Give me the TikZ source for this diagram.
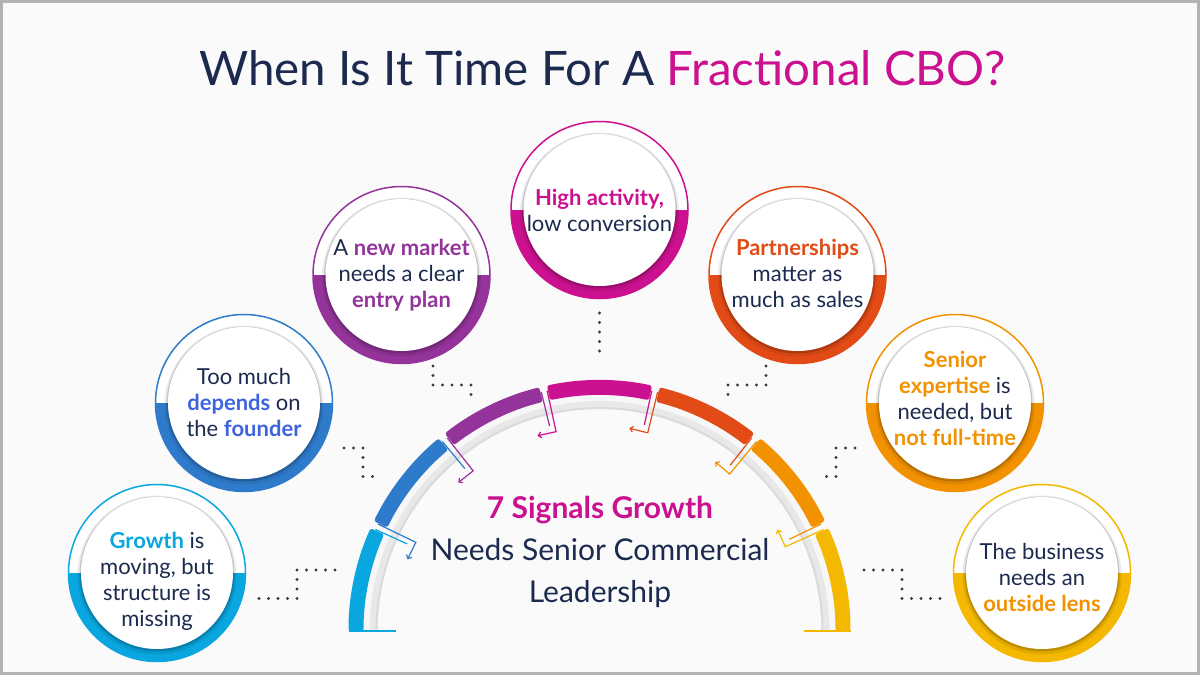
\documentclass[tikz,border=0pt]{standalone}
\usepackage{fontspec}
\setmainfont{Lato}
\usetikzlibrary{arrows.meta}

\definecolor{navy}{HTML}{1B2A4E}
\definecolor{sigcyan}{HTML}{0AA6DF}
\definecolor{sigblue}{HTML}{2F7BCB}
\definecolor{sigroyal}{HTML}{3D64DC}
\definecolor{sigpurple}{HTML}{94349B}
\definecolor{sigmagenta}{HTML}{CB118F}
\definecolor{sigred}{HTML}{E24B15}
\definecolor{sigorange}{HTML}{F29200}
\definecolor{sigyellow}{HTML}{F5B800}
\definecolor{dotgray}{HTML}{3A3A3A}
\definecolor{bggray}{HTML}{FAFAFA}
\definecolor{framegray}{HTML}{B3B3B3}

\newcommand{\sigkey}[2]{\textbf{\textcolor{#1}{#2}}}

\tikzset{
  sigring/.style={circle, minimum size=177pt, inner sep=0pt, draw=#1, line width=1.5pt, fill=white,
    path picture={\fill[#1] (path picture bounding box.west) rectangle (path picture bounding box.south east);}},
  sigdisc/.style={circle, minimum size=152pt, inner sep=0pt, fill=white},
  sigtext/.style={align=center, inner sep=0pt, text=navy, font=\fontsize{22}{26}\selectfont},
  dotline/.style={dotgray, line width=3.4pt, line cap=round, dash pattern=on 0pt off 9.5pt},
}

\begin{document}
\begin{tikzpicture}[x=1pt, y=1pt]
  \useasboundingbox (0,0) rectangle (1200,-675);
  \fill[bggray] (0,0) rectangle (1200,-675);
  \draw[framegray, line width=3pt] (1.5,-1.5) rectangle (1198.5,-673.5);

  % title
  \node[anchor=base, text=navy, font=\fontsize{47.5}{52}\selectfont] (title) at (602.5,-85)
    {When Is It Time For A \textcolor{sigmagenta}{Fractional CBO?}};

  % half ring
  \coordinate (hubc) at (599.5,-631);
  \draw[line width=14pt, color=black!9] ([shift={(180:229)}]hubc) arc[start angle=180, end angle=0, radius=229];
  \draw[line width=6pt, color=black!3] ([shift={(180:233)}]hubc) arc[start angle=180, end angle=0, radius=233];
  \draw[line width=2pt, color=black!14] ([shift={(180:223)}]hubc) arc[start angle=180, end angle=0, radius=223];

  \foreach \a/\b [count=\k] in {sigcyan/sigblue, sigblue/sigpurple, sigpurple/sigmagenta,
                                sigmagenta/sigred, sigred/sigorange, sigorange/sigyellow}{
    \pgfmathsetmacro\tp{180-\k*25.97+1.6}
    \pgfmathsetmacro\tm{180-\k*25.97+0.2}
    \pgfmathsetmacro\tq{\tm+90}
    \draw[\a, line width=1.2pt] ([shift={(\tp:246)}]hubc) -- ([shift={(\tp:211)}]hubc);
    \draw[\b, line width=1.2pt, -{Straight Barb[length=3pt, width=6pt]}]
      ([shift={(\tm:246)}]hubc) -- ([shift={(\tm:204)}]hubc) -- ++(\tq:19);
  }

  \foreach \c [count=\k from 0] in {sigcyan, sigblue, sigpurple, sigmagenta, sigred, sigorange, sigyellow}{
    \pgfmathsetmacro\ta{180-\k*25.97}
    \pgfmathsetmacro\tb{\ta-24.17}
    \fill[\c, rounded corners=2.5pt] ([shift={(\ta:251)}]hubc) arc[start angle=\ta, end angle=\tb, radius=251]
      -- ([shift={(\tb:236)}]hubc) arc[start angle=\tb, end angle=\ta, radius=236] -- cycle;
  }
  \draw[sigcyan, line width=1.5pt] ([shift={(180:251)}]hubc) -- ++(47,0);
  \draw[sigyellow, line width=1.5pt] ([shift={(0:251)}]hubc) -- ++(-47,0);

  \node[align=center, text=navy, font=\fontsize{30}{42}\selectfont] (hub) at (600,-551.5)
    {\sigkey{sigmagenta}{7 Signals Growth}\\Needs Senior Commercial\\Leadership};

  % dotted connectors
  \coordinate (growth-a) at (259,-598.5);   \coordinate (growth-b) at (297,-570);   \coordinate (growth-c) at (335,-570);
  \coordinate (founder-a) at (344,-448);    \coordinate (founder-b) at (363,-476.5); \coordinate (founder-c) at (382,-476.5);
  \coordinate (market-a) at (433,-366);     \coordinate (market-b) at (471,-385);   \coordinate (market-c) at (471,-404);
  \coordinate (activity-a) at (599.5,-313); \coordinate (activity-b) at (599.5,-360.5);
  \coordinate (partner-a) at (766,-366);    \coordinate (partner-b) at (728,-385);  \coordinate (partner-c) at (728,-404);
  \coordinate (expertise-a) at (855,-448);  \coordinate (expertise-b) at (836,-476.5); \coordinate (expertise-c) at (817,-476.5);
  \coordinate (lens-a) at (940,-598.5);     \coordinate (lens-b) at (902,-570);     \coordinate (lens-c) at (864,-570);

  \draw[dotline] (growth-a) -| (growth-b) -- (growth-c);
  \draw[dotline] (founder-a) -| (founder-b) -- (founder-c);
  \draw[dotline] (market-a) |- (market-b) -- (market-c);
  \draw[dotline] (activity-a) -- (activity-b);
  \draw[dotline] (partner-a) |- (partner-b) -- (partner-c);
  \draw[dotline] (expertise-a) -| (expertise-b) -- (expertise-c);
  \draw[dotline] (lens-a) -| (lens-b) -- (lens-c);

  % signal circles
  \node[sigring=sigcyan] (growth) at (157,-573) {};
  \node[sigring=sigblue] (founder) at (244,-403) {};
  \node[sigring=sigpurple] (market) at (401.5,-275) {};
  \node[sigring=sigmagenta] (activity) at (599.5,-210) {};
  \node[sigring=sigred] (partner) at (797.5,-275) {};
  \node[sigring=sigorange] (expertise) at (955,-403) {};
  \node[sigring=sigyellow] (lens) at (1042,-573) {};

  \foreach \n in {growth, founder, market, activity, partner, expertise, lens}{
    \fill[black, opacity=.08] ([yshift=-2pt]\n) circle (79.5);
    \fill[black, opacity=.16] ([yshift=-1pt]\n) circle (77.5);
    \node[sigdisc] (\n-in) at (\n) {};
  }

  \node[sigtext] (growth-txt) at (157,-581.5)
    {\sigkey{sigcyan}{Growth} is\\moving, but\\structure is\\missing};
  \node[sigtext] (founder-txt) at (244,-402.5)
    {Too much\\\sigkey{sigroyal}{depends} on\\the \sigkey{sigroyal}{founder}};
  \node[sigtext] (market-txt) at (401.5,-275.5)
    {A \sigkey{sigpurple}{new market}\\needs a clear\\\sigkey{sigpurple}{entry plan}};
  \node[sigtext] (activity-txt) at (599.5,-210.5)
    {\sigkey{sigmagenta}{High activity,}\\low conversion};
  \node[sigtext] (partner-txt) at (797.5,-273)
    {\sigkey{sigred}{Partnerships}\\matter as\\much as sales};
  \node[sigtext] (expertise-txt) at (955,-398.5)
    {\sigkey{sigorange}{Senior}\\\sigkey{sigorange}{expertise} is\\needed, but\\\sigkey{sigorange}{not full-time}};
  \node[sigtext] (lens-txt) at (1042,-577.5)
    {The business\\needs an\\\sigkey{sigorange}{outside lens}};
\end{tikzpicture}
\end{document}
